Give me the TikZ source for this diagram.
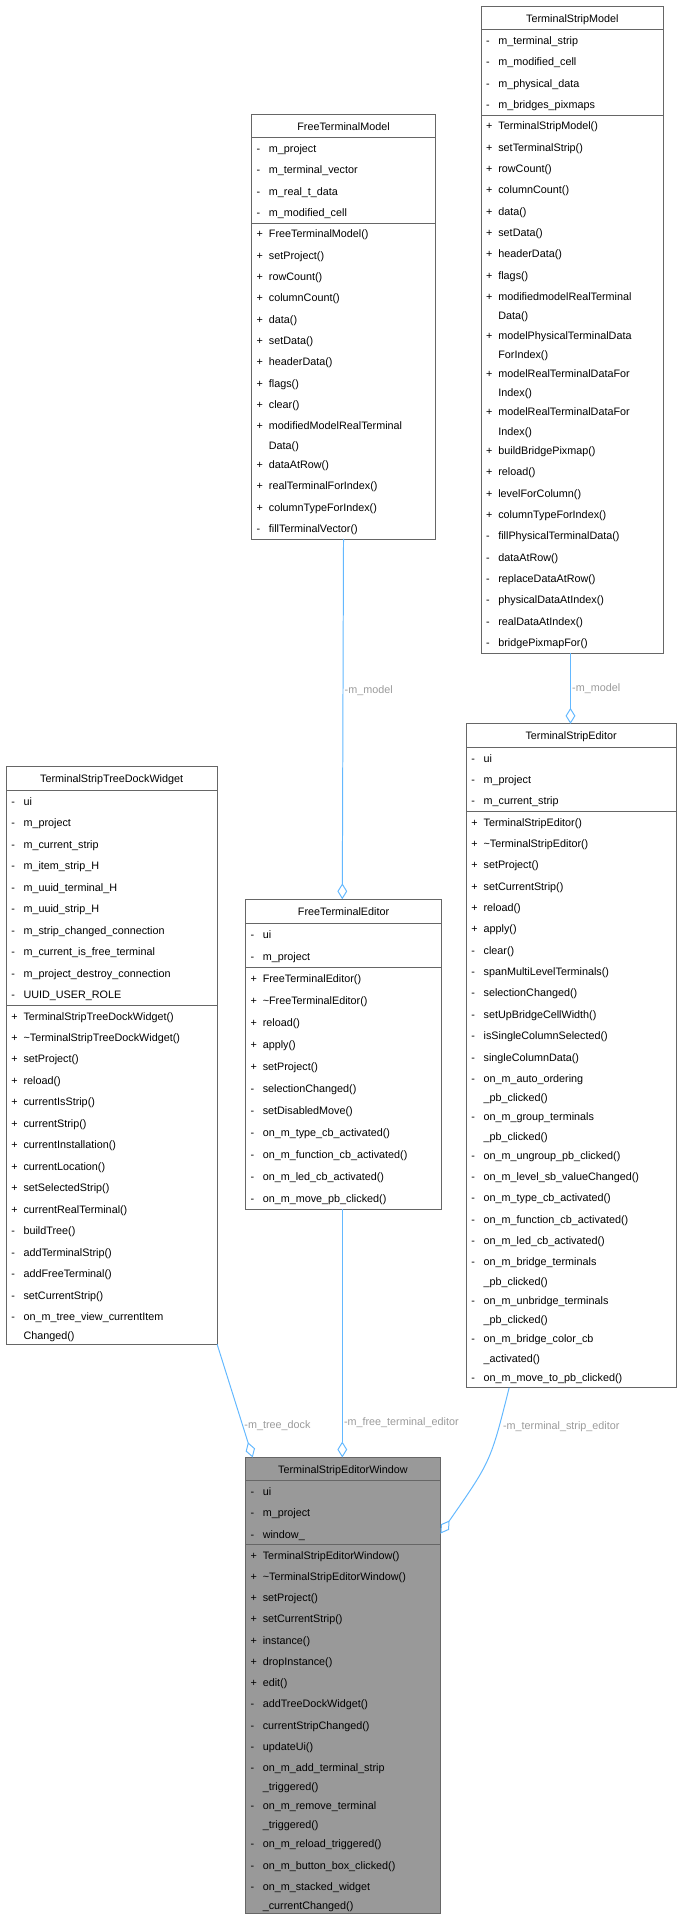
\documentclass[tikz,border=0pt]{standalone}
\usepackage{fontspec}
\setmainfont{Liberation Sans}
\usetikzlibrary{calc, arrows.meta, backgrounds}

\definecolor{edgeblue}{HTML}{63B8FF}
\definecolor{labelgray}{HTML}{9A9A9A}
\definecolor{boxgray}{HTML}{999999}

\tikzset{
	umltitle/.style = {inner sep=0pt, anchor=base, font=\fontsize{8.8}{10}\selectfont},
	umlentry/.style = {inner sep=0pt, anchor=base west, font=\fontsize{8.8}{10}\selectfont},
	umlborder/.style = {draw=black!60, line width=0.6pt},
	umlrule/.style = {draw=black!60, line width=0.6pt},
	member/.style = {draw=edgeblue, line width=0.8pt, -{Diamond[open, length=13pt, width=8pt]}},
	rolelabel/.style = {text=labelgray, inner sep=1pt, font=\fontsize{8.8}{10}\selectfont}
}

% rows of one compartment: #1 prefix, #2 x, #3 row height, #4 list of sign/text
\newcommand\umlrows[4]{%
	\foreach \s/\t [count=\i] in {#4} {
		\ifx\s\empty \pgfmathsetmacro\rh{0.8*#3}\else \pgfmathsetmacro\rh{#3}\fi
		\node [umlentry] (#1\i) at (#2+4, \cy+\rh/2+3.4) {\s};
		\node [umlentry] (#1t\i) at (#2+14, \cy+\rh/2+3.4) {\t};
		\pgfmathsetmacro\ny{\cy+\rh}\xdef\cy{\ny}
	}
}

% class box: #1 name, #2 x, #3 top, #4 width, #5 row height, #6 title, #7 attributes, #8 methods, #9 fill
\newcommand\umlbox[9]{%
	\node [umltitle] (#1) at (#2+#4/2, #3+#5*0.55+3.4) {#6};
	\pgfmathsetmacro\ny{#3+1.1*#5}\xdef\cy{\ny}
	\draw [umlrule] (#2,\cy) -- (#2+#4,\cy);
	\umlrows{#1-a}{#2}{#5}{#7}
	\draw [umlrule] (#2,\cy) -- (#2+#4,\cy);
	\umlrows{#1-m}{#2}{#5}{#8}
	\coordinate (#1-nw) at (#2,#3);
	\coordinate (#1-n) at (#2+#4/2,#3);
	\coordinate (#1-ne) at (#2+#4,#3);
	\coordinate (#1-sw) at (#2,\cy);
	\coordinate (#1-s) at (#2+#4/2,\cy);
	\coordinate (#1-se) at (#2+#4,\cy);
	\begin{pgfonlayer}{background}
		\filldraw [umlborder, fill=#9] (#1-nw) rectangle (#1-se);
	\end{pgfonlayer}
}

\begin{document}
\begin{tikzpicture}[x=1pt, y=-1pt]
	\useasboundingbox (0,0) rectangle (555,1565);
	
	%models
	\umlbox{stripmodel}{392}{5}{149}{17.4}{TerminalStripModel}
	{-/m\_terminal\_strip, -/m\_modified\_cell, -/m\_physical\_data, -/m\_bridges\_pixmaps}
	{+/TerminalStripModel(), +/setTerminalStrip(), +/rowCount(), +/columnCount(), +/data(), +/setData(), +/headerData(), +/flags(), +/modifiedmodelRealTerminal, /Data(), +/modelPhysicalTerminalData, /ForIndex(), +/modelRealTerminalDataFor, /Index(), +/modelRealTerminalDataFor, /Index(), +/buildBridgePixmap(), +/reload(), +/levelForColumn(), +/columnTypeForIndex(), -/fillPhysicalTerminalData(), -/dataAtRow(), -/replaceDataAtRow(), -/physicalDataAtIndex(), -/realDataAtIndex(), -/bridgePixmapFor()}{white}
	
	\umlbox{freemodel}{205}{93}{150}{17.4}{FreeTerminalModel}
	{-/m\_project, -/m\_terminal\_vector, -/m\_real\_t\_data, -/m\_modified\_cell}
	{+/FreeTerminalModel(), +/setProject(), +/rowCount(), +/columnCount(), +/data(), +/setData(), +/headerData(), +/flags(), +/clear(), +/modifiedModelRealTerminal, /Data(), +/dataAtRow(), +/realTerminalForIndex(), +/columnTypeForIndex(), -/fillTerminalVector()}{white}
	
	%editors and dock
	\umlbox{treedock}{5}{625}{172}{17.5}{TerminalStripTreeDockWidget}
	{-/ui, -/m\_project, -/m\_current\_strip, -/m\_item\_strip\_H, -/m\_uuid\_terminal\_H, -/m\_uuid\_strip\_H, -/m\_strip\_changed\_connection, -/m\_current\_is\_free\_terminal, -/m\_project\_destroy\_connection, -/UUID\_USER\_ROLE}
	{+/TerminalStripTreeDockWidget(), +/\textasciitilde TerminalStripTreeDockWidget(), +/setProject(), +/reload(), +/currentIsStrip(), +/currentStrip(), +/currentInstallation(), +/currentLocation(), +/setSelectedStrip(), +/currentRealTerminal(), -/buildTree(), -/addTerminalStrip(), -/addFreeTerminal(), -/setCurrentStrip(), -/on\_m\_tree\_view\_currentItem, /Changed()}{white}
	
	\umlbox{freeeditor}{200}{733}{160}{17.9}{FreeTerminalEditor}
	{-/ui, -/m\_project}
	{+/FreeTerminalEditor(), +/\textasciitilde FreeTerminalEditor(), +/reload(), +/apply(), +/setProject(), -/selectionChanged(), -/setDisabledMove(), -/on\_m\_type\_cb\_activated(), -/on\_m\_function\_cb\_activated(), -/on\_m\_led\_cb\_activated(), -/on\_m\_move\_pb\_clicked()}{white}
	
	\umlbox{stripeditor}{380}{590}{171}{17.4}{TerminalStripEditor}
	{-/ui, -/m\_project, -/m\_current\_strip}
	{+/TerminalStripEditor(), +/\textasciitilde TerminalStripEditor(), +/setProject(), +/setCurrentStrip(), +/reload(), +/apply(), -/clear(), -/spanMultiLevelTerminals(), -/selectionChanged(), -/setUpBridgeCellWidth(), -/isSingleColumnSelected(), -/singleColumnData(), -/on\_m\_auto\_ordering, /\_pb\_clicked(), -/on\_m\_group\_terminals, /\_pb\_clicked(), -/on\_m\_ungroup\_pb\_clicked(), -/on\_m\_level\_sb\_valueChanged(), -/on\_m\_type\_cb\_activated(), -/on\_m\_function\_cb\_activated(), -/on\_m\_led\_cb\_activated(), -/on\_m\_bridge\_terminals, /\_pb\_clicked(), -/on\_m\_unbridge\_terminals, /\_pb\_clicked(), -/on\_m\_bridge\_color\_cb, /\_activated(), -/on\_m\_move\_to\_pb\_clicked()}{white}
	
	%window
	\umlbox{window}{200}{1188}{159}{17.3}{TerminalStripEditorWindow}
	{-/ui, -/m\_project, -/window\_}
	{+/TerminalStripEditorWindow(), +/\textasciitilde TerminalStripEditorWindow(), +/setProject(), +/setCurrentStrip(), +/instance(), +/dropInstance(), +/edit(), -/addTreeDockWidget(), -/currentStripChanged(), -/updateUi(), -/on\_m\_add\_terminal\_strip, /\_triggered(), -/on\_m\_remove\_terminal, /\_triggered(), -/on\_m\_reload\_triggered(), -/on\_m\_button\_box\_clicked(), -/on\_m\_stacked\_widget, /\_currentChanged()}{boxgray}
	
	%aggregations
	\draw [member] ($(stripmodel-sw)+(73,0)$) -- ($(stripeditor-nw)+(85,0)$)
		node [rolelabel, pos=0.5, right] {-m\_model};
	\draw [member] (freemodel-s) -- ($(freeeditor-nw)+(79,0)$)
		node [rolelabel, pos=0.42, right] {-m\_model};
	\draw [member] (treedock-se) -- ($(window-nw)+(6,0)$)
		node [rolelabel, pos=0.72, right] {-m\_tree\_dock};
	\draw [member] ($(freeeditor-sw)+(79,0)$) -- ($(window-nw)+(79,0)$)
		node [rolelabel, pos=0.86, right] {-m\_free\_terminal\_editor};
	\draw [member] ($(stripeditor-sw)+(35,0)$) .. controls ($(stripeditor-sw)+(20,60)$) .. ($(window-ne)+(0,62)$)
		node [rolelabel, pos=0.22, right=2pt] {-m\_terminal\_strip\_editor};
\end{tikzpicture}
\end{document}
